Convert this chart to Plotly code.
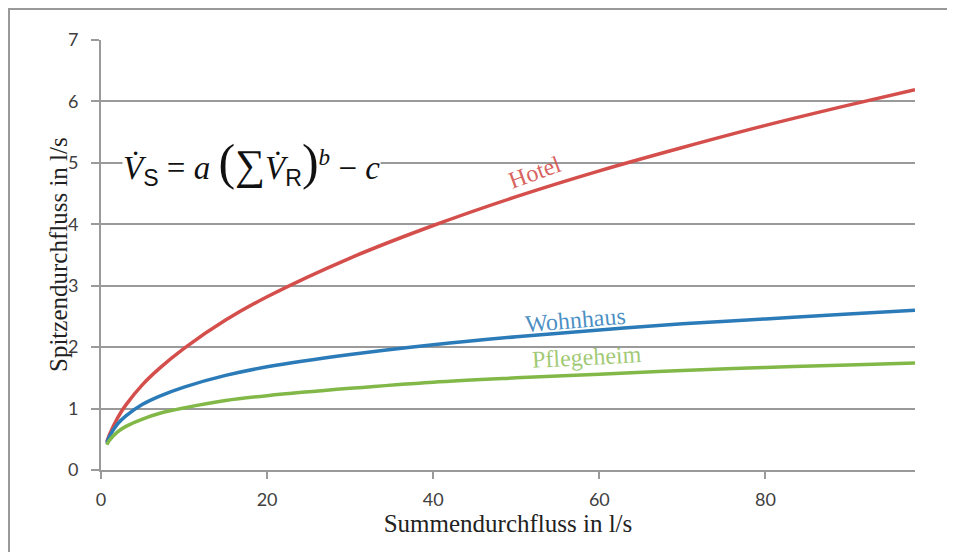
import plotly.graph_objects as go

# Summendurchfluss in l/s (x positions)
summen = [0.7, 1, 2, 3, 5, 7, 10, 15, 20, 30, 40, 50, 60, 70, 80, 90, 98]
# Spitzendurchfluss in l/s
hotel = [0.46, 0.57, 0.85, 1.06, 1.39, 1.65, 1.98, 2.44, 2.82, 3.45, 3.98, 4.45, 4.87, 5.25, 5.61, 5.94, 6.19]
wohnhaus = [0.44, 0.54, 0.75, 0.88, 1.07, 1.20, 1.35, 1.54, 1.68, 1.88, 2.04, 2.17, 2.28, 2.38, 2.46, 2.54, 2.60]
pflegeheim = [0.41, 0.48, 0.62, 0.71, 0.83, 0.92, 1.01, 1.13, 1.21, 1.33, 1.43, 1.50, 1.56, 1.62, 1.67, 1.71, 1.74]

x_ticks = [0, 20, 40, 60, 80]
y_ticks = [0, 1, 2, 3, 4, 5, 6, 7]

series = [
    ("Hotel", hotel, "#d44f4c"),
    ("Wohnhaus", wohnhaus, "#2b7bb9"),
    ("Pflegeheim", pflegeheim, "#82b847"),
]

fig = go.Figure()
for name, vals, col in series:
    fig.add_trace(go.Scatter(x=summen, y=vals, mode="lines", name=name,
                             line=dict(color=col, width=3.5, shape="spline"),
                             showlegend=False))

serif = "Liberation Serif, Times New Roman, serif"
grid = "#9a9a9a"
tickfont = dict(family="Lato, sans-serif", size=18, color="#404040")

# page body adds an 8px offset; the figure is sized to fit and margins place
# the plot area at 101..915 x 40..470 in the screenshot
fig.update_layout(
    width=947, height=544,
    margin=dict(l=93, r=40, t=32, b=82),
    paper_bgcolor="white", plot_bgcolor="white",
    xaxis=dict(range=[0, 98], tickvals=x_ticks, showgrid=False, zeroline=False,
               showline=True, linecolor=grid, linewidth=2,
               ticks="outside", ticklen=7, tickcolor=grid, tickwidth=2,
               tickfont=tickfont, ticklabelstandoff=5,
               title=dict(text="Summendurchfluss in l/s", standoff=0,
                          font=dict(family=serif, size=25, color="#222"))),
    yaxis=dict(range=[0, 7], tickvals=y_ticks, showgrid=True, gridcolor=grid, gridwidth=2,
               zeroline=False, showline=True, linecolor=grid, linewidth=2,
               ticks="outside", ticklen=8, tickcolor=grid, tickwidth=2,
               tickfont=tickfont, ticklabelstandoff=9),
    shapes=[dict(type="rect", xref="paper", yref="paper",
                 x0=(9 - 101) / 814, x1=(953 - 101) / 814,
                 y0=-0.3, y1=(470 - 9) / 430,
                 line=dict(color="#999", width=2), fillcolor="rgba(0,0,0,0)", layer="below")],
)

# y-axis title placed as a rotated annotation for exact position
fig.add_annotation(x=(58 - 101) / 814, y=0.5, xref="paper", yref="paper",
                   text="Spitzendurchfluss in l/s", showarrow=False, textangle=-90,
                   xanchor="center", yanchor="middle",
                   font=dict(family=serif, size=25, color="#222"))

formula = ("<i>V̇</i><span style='font-family:Liberation Sans'><sub>S</sub></span> = <i>a</i> "
           "<span style='font-size:50px'>(</span><span style='font-size:42px'>∑</span>"
           "<i>V̇</i><span style='font-family:Liberation Sans'><sub>R</sub></span>"
           "<span style='font-size:50px'>)</span><sup><i>b</i></sup> − <i>c</i>")
fig.add_annotation(x=(251 - 101) / 814, y=5.0, xref="paper", yref="y", text=formula, showarrow=False,
                   font=dict(family=serif, size=33, color="#111"), bgcolor="white",
                   borderpad=0, xanchor="center", yanchor="middle")

labels = [
    ("Hotel", 52.3, 4.85, -20, "rgba(212,79,76,0.9)"),
    ("Wohnhaus", 57.1, 2.44, -5, "rgba(43,123,185,0.85)"),
    ("Pflegeheim", 58.5, 1.84, -3, "rgba(130,184,71,0.75)"),
]
for txt, lx, ly, ang, col in labels:
    fig.add_annotation(x=lx, y=ly, text=txt, showarrow=False, textangle=ang,
                       font=dict(family=serif, size=24, color=col))

fig.write_html("out.html")
